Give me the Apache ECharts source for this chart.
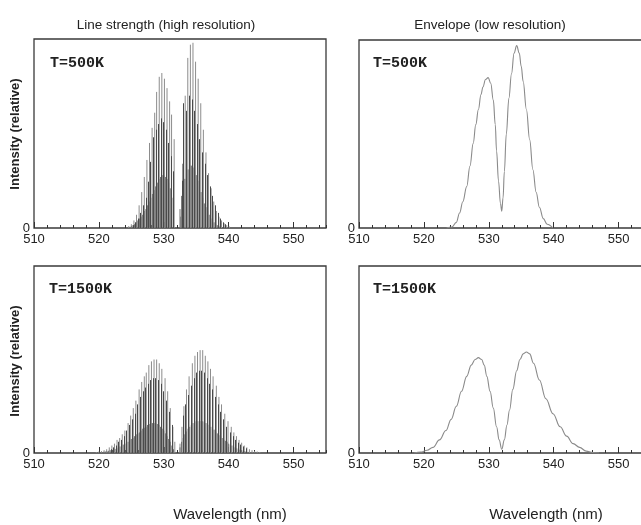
<!DOCTYPE html>
<html>
<head>
<meta charset="utf-8">
<script src="https://cdn.jsdelivr.net/npm/echarts@6/dist/echarts.min.js"></script>
<style>html,body{margin:0;padding:0;background:#fff}#c{width:641px;height:525px}</style>
</head>
<body>
<div id="c"></div>
<script>
// ---------- data (wavelength nm, relative intensity) ----------
var xTicks = [510, 520, 530, 540, 550];

var light500 = [[524.6,0.01],[525.0,0.02],[525.4,0.04],[525.8,0.07],[526.2,0.12],[526.6,0.19],[527.0,0.27],[527.4,0.36],[527.8,0.45],[528.2,0.53],[528.6,0.61],[528.9,0.72],[529.3,0.80],[529.7,0.82],[530.1,0.79],[530.5,0.74],[530.9,0.67],[531.2,0.60],[531.6,0.47],[532.6,0.06],[532.9,0.34],[533.3,0.70],[533.7,0.90],[534.1,0.97],[534.5,0.98],[534.9,0.88],[535.3,0.79],[535.7,0.66],[536.1,0.52],[536.5,0.40],[536.9,0.29],[537.3,0.21],[537.7,0.14],[538.1,0.09],[538.5,0.06],[538.9,0.04],[539.3,0.025],[539.7,0.015],[540.1,0.008]];

var dark500 = [[525.2,0.015],[525.6,0.03],[526.0,0.05],[526.4,0.08],[526.8,0.12],[527.2,0.16],[527.5,0.245],[527.9,0.35],[528.4,0.48],[528.75,0.52],[529.1,0.55],[529.5,0.58],[529.9,0.56],[530.3,0.52],[530.7,0.45],[531.05,0.38],[531.4,0.30],[532.8,0.25],[533.0,0.66],[533.5,0.62],[533.9,0.70],[534.3,0.68],[534.7,0.62],[535.1,0.55],[535.5,0.47],[535.9,0.40],[536.3,0.34],[536.7,0.28],[537.1,0.22],[537.5,0.17],[537.9,0.12],[538.3,0.08],[538.7,0.05],[539.1,0.03],[539.5,0.02],[539.9,0.01]];

var dense500 = [[525.0,0.01],[525.25,0.015],[525.5,0.02],[525.75,0.03],[526.0,0.04],[526.25,0.05],[526.5,0.06],[526.75,0.07],[527.0,0.09],[527.25,0.10],[527.5,0.12],[527.75,0.14],[528.0,0.16],[528.25,0.18],[528.5,0.20],[528.75,0.22],[529.0,0.24],[529.25,0.26],[529.5,0.27],[529.75,0.28],[530.0,0.28],[530.25,0.27],[530.5,0.26],[530.75,0.24],[531.0,0.21],[531.25,0.16],[531.5,0.11],[532.5,0.10],[532.75,0.17],[533.0,0.22],[533.25,0.26],[533.5,0.29],[533.75,0.31],[534.0,0.33],[534.25,0.33],[534.5,0.32],[534.75,0.30],[535.0,0.28],[535.25,0.25],[535.5,0.22],[535.75,0.19],[536.0,0.16],[536.25,0.13],[536.5,0.11],[536.75,0.09],[537.0,0.07],[537.25,0.05],[537.5,0.04],[537.75,0.03],[538.0,0.02],[538.25,0.015],[538.5,0.01]];

var light1500 = [[519.6,0.005],[520.0,0.008],[520.4,0.01],[520.8,0.015],[521.2,0.02],[521.6,0.03],[522.0,0.04],[522.4,0.05],[522.8,0.07],[523.2,0.08],[523.6,0.10],[524.0,0.12],[524.5,0.16],[524.9,0.20],[525.3,0.24],[525.7,0.28],[526.2,0.34],[526.6,0.38],[527.0,0.41],[527.3,0.43],[527.7,0.47],[528.1,0.49],[528.5,0.50],[528.9,0.50],[529.3,0.48],[529.7,0.45],[530.2,0.40],[530.6,0.33],[531.0,0.24],[531.4,0.14],[531.7,0.06],[532.5,0.05],[532.8,0.14],[533.1,0.25],[533.5,0.34],[533.9,0.41],[534.4,0.48],[534.8,0.52],[535.2,0.54],[535.6,0.55],[536.0,0.55],[536.4,0.52],[536.8,0.49],[537.2,0.45],[537.6,0.41],[538.1,0.36],[538.5,0.30],[538.9,0.26],[539.4,0.21],[539.9,0.17],[540.4,0.14],[540.8,0.11],[541.2,0.09],[541.6,0.07],[542.0,0.055],[542.4,0.04],[542.8,0.03],[543.2,0.02],[543.6,0.015],[544.0,0.01],[544.4,0.008],[544.8,0.005]];

var dark1500 = [[521.8,0.02],[522.2,0.03],[522.6,0.04],[523.0,0.06],[523.4,0.07],[523.8,0.09],[524.25,0.12],[524.7,0.15],[525.1,0.18],[525.5,0.21],[525.95,0.26],[526.4,0.30],[526.8,0.33],[527.15,0.35],[527.5,0.37],[527.9,0.39],[528.3,0.40],[528.7,0.40],[529.1,0.39],[529.5,0.37],[529.95,0.33],[530.4,0.28],[530.8,0.22],[531.2,0.15],[532.95,0.20],[533.3,0.26],[533.7,0.31],[534.15,0.36],[534.6,0.40],[535.0,0.43],[535.4,0.44],[535.8,0.44],[536.2,0.43],[536.6,0.40],[537.0,0.37],[537.4,0.34],[537.85,0.30],[538.3,0.26],[538.7,0.22],[539.15,0.18],[539.65,0.14],[540.15,0.11],[540.6,0.09],[541.0,0.07],[541.4,0.055],[541.8,0.045],[542.2,0.035],[542.6,0.025]];

var dense1500 = [[520.5,0.005],[520.75,0.007],[521.0,0.008],[521.25,0.01],[521.5,0.012],[521.75,0.015],[522.0,0.017],[522.25,0.02],[522.5,0.022],[522.75,0.025],[523.0,0.03],[523.25,0.035],[523.5,0.04],[523.75,0.045],[524.0,0.05],[524.25,0.055],[524.5,0.06],[524.75,0.07],[525.0,0.075],[525.25,0.08],[525.5,0.09],[525.75,0.10],[526.0,0.105],[526.25,0.11],[526.5,0.12],[526.75,0.13],[527.0,0.135],[527.25,0.14],[527.5,0.15],[527.75,0.155],[528.0,0.16],[528.25,0.16],[528.5,0.16],[528.75,0.16],[529.0,0.155],[529.25,0.15],[529.5,0.14],[529.75,0.13],[530.0,0.12],[530.25,0.105],[530.5,0.09],[530.75,0.075],[531.0,0.06],[531.25,0.04],[531.5,0.02],[532.5,0.03],[532.75,0.06],[533.0,0.08],[533.25,0.10],[533.5,0.115],[533.75,0.13],[534.0,0.14],[534.25,0.15],[534.5,0.16],[534.75,0.165],[535.0,0.17],[535.25,0.17],[535.5,0.17],[535.75,0.17],[536.0,0.17],[536.25,0.165],[536.5,0.16],[536.75,0.155],[537.0,0.15],[537.25,0.14],[537.5,0.13],[537.75,0.125],[538.0,0.115],[538.25,0.105],[538.5,0.095],[538.75,0.09],[539.0,0.08],[539.25,0.07],[539.5,0.065],[539.75,0.06],[540.0,0.05],[540.25,0.045],[540.5,0.04],[540.75,0.035],[541.0,0.03],[541.25,0.025],[541.5,0.02],[541.75,0.018],[542.0,0.015],[542.25,0.012],[542.5,0.01],[542.75,0.008],[543.0,0.006],[543.5,0.004],[544.0,0.003]];

var env500 = [[523.5,0],[524.3,0.005],[525.0,0.03],[525.5,0.08],[526.0,0.14],[526.6,0.22],[527.1,0.33],[527.6,0.45],[528.0,0.55],[528.4,0.63],[528.8,0.71],[529.1,0.75],[529.5,0.79],[529.9,0.80],[530.3,0.77],[530.7,0.68],[531.0,0.55],[531.2,0.41],[531.5,0.25],[531.8,0.13],[532.0,0.09],[532.2,0.16],[532.4,0.30],[532.7,0.50],[533.1,0.69],[533.5,0.82],[533.9,0.93],[534.3,0.97],[534.7,0.93],[535.0,0.86],[535.3,0.78],[535.8,0.63],[536.3,0.47],[536.8,0.31],[537.3,0.19],[537.8,0.11],[538.4,0.05],[539.0,0.02],[539.9,0]];

var env1500 = [[518.5,0],[519.5,0.005],[520.5,0.015],[521.4,0.03],[522.4,0.07],[523.4,0.12],[524.2,0.18],[525.0,0.25],[525.8,0.33],[526.6,0.41],[527.3,0.47],[527.9,0.50],[528.4,0.51],[528.9,0.50],[529.3,0.47],[529.7,0.41],[530.2,0.33],[530.7,0.24],[531.2,0.14],[531.6,0.07],[532.0,0.02],[532.4,0.07],[532.8,0.15],[533.2,0.23],[533.7,0.34],[534.3,0.44],[534.8,0.50],[535.3,0.53],[535.8,0.54],[536.3,0.53],[536.9,0.48],[537.8,0.39],[538.8,0.29],[539.9,0.21],[541.0,0.14],[542.0,0.09],[543.0,0.05],[544.0,0.03],[545.0,0.01],[546.0,0.003],[547.0,0]];

// ---------- layout ----------
var grids = [
  {left: 34, top: 39, width: 292, height: 189},
  {left: 359, top: 40, width: 292, height: 188},
  {left: 34, top: 266, width: 292, height: 187},
  {left: 359, top: 266, width: 292, height: 187}
];
var FRAME = '#3a3a3a';
var TXT = '#222';
var SANS = 'Liberation Sans, Arial, sans-serif';

var xAxes = [], yAxes = [];
grids.forEach(function (g, i) {
  g.show = true; g.borderColor = FRAME; g.borderWidth = 1.3; g.containLabel = false;
  g.outerBoundsMode = 'none';
  xAxes.push({
    type: 'value', gridIndex: i, min: 510, max: 555, interval: 10, position: 'bottom',
    axisLine: {show: false}, splitLine: {show: false},
    axisTick: {show: true, inside: true, length: 6, lineStyle: {color: '#333', width: 1}},
    axisLabel: {show: true, margin: 5, color: TXT, fontSize: 13, fontFamily: SANS,
      showMaxLabel: false, hideOverlap: false,
      formatter: function (v) { return xTicks.indexOf(v) >= 0 ? String(v) : ''; }}
  });
  xAxes.push({
    type: 'value', gridIndex: i, min: 510, max: 555, interval: 2, position: 'bottom',
    axisLine: {show: false}, splitLine: {show: false}, axisLabel: {show: false},
    axisTick: {show: true, inside: true, length: 3, lineStyle: {color: '#333', width: 1}}
  });
  yAxes.push({
    type: 'value', gridIndex: i, min: 0, max: 1, interval: 1,
    axisLine: {show: false}, axisTick: {show: false}, splitLine: {show: false},
    axisLabel: {show: true, margin: 4, color: TXT, fontSize: 13, fontFamily: SANS,
      padding: [0, 0, 4, 0],
      formatter: function (v) { return v === 0 ? '0' : ''; }}
  });
});

function sticks(gi, data, color, snap) {
  return {
    type: 'custom', xAxisIndex: gi * 2, yAxisIndex: gi, data: data, silent: true, clip: true,
    renderItem: function (params, api) {
      var p0 = api.coord([api.value(0), 0]);
      var p1 = api.coord([api.value(0), api.value(1)]);
      var x = snap ? Math.round(p0[0]) + 0.5 : p0[0];
      return {type: 'line', shape: {x1: x, y1: p0[1], x2: x, y2: p1[1]},
        style: {stroke: color, lineWidth: 1}};
    }
  };
}
function envelope(gi, data) {
  return {type: 'line', xAxisIndex: gi * 2, yAxisIndex: gi, data: data, smooth: 0.4, smoothMonotone: 'x',
    showSymbol: false, symbol: 'none', silent: true, clip: true,
    lineStyle: {color: '#8a8a8a', width: 1.1}};
}

var LIGHT = '#8c8c8c', DARK = '#4a4a4a', DENSE = '#6e6e6e';
var series = [
  sticks(0, light500, LIGHT, false), sticks(0, dense500, DENSE, false), sticks(0, dark500, DARK, true),
  envelope(1, env500),
  sticks(2, light1500, LIGHT, false), sticks(2, dense1500, DENSE, false), sticks(2, dark1500, DARK, true),
  envelope(3, env1500)
];

function txt(x, y, s, font, align, rot) {
  return {type: 'text', x: x, y: y, rotation: rot || 0, silent: true,
    style: {text: s, font: font, fill: TXT, align: align || 'center', verticalAlign: 'middle',
      textAlign: align || 'center', textVerticalAlign: 'middle'}};
}
var MONO = 'bold 15px "Liberation Mono", "DejaVu Sans Mono", monospace';
var graphics = [
  txt(166, 25, 'Line strength (high resolution)', '13.5px ' + SANS),
  txt(490, 25, 'Envelope (low resolution)', '13.5px ' + SANS),
  txt(230, 515, 'Wavelength (nm)', '15px ' + SANS),
  txt(546, 515, 'Wavelength (nm)', '15px ' + SANS),
  txt(15, 134, 'Intensity (relative)', 'bold 13px ' + SANS, 'center', Math.PI / 2),
  txt(15, 361, 'Intensity (relative)', 'bold 13px ' + SANS, 'center', Math.PI / 2),
  txt(50, 63, 'T=500K', MONO, 'left'),
  txt(373, 63, 'T=500K', MONO, 'left'),
  txt(49, 289, 'T=1500K', MONO, 'left'),
  txt(373, 289, 'T=1500K', MONO, 'left')
];

var chart = echarts.init(document.getElementById('c'), null, {renderer: 'canvas'});
chart.setOption({
  animation: false,
  backgroundColor: '#fff',
  grid: grids,
  xAxis: xAxes,
  yAxis: yAxes,
  series: series,
  graphic: graphics
});
</script>
</body>
</html>
